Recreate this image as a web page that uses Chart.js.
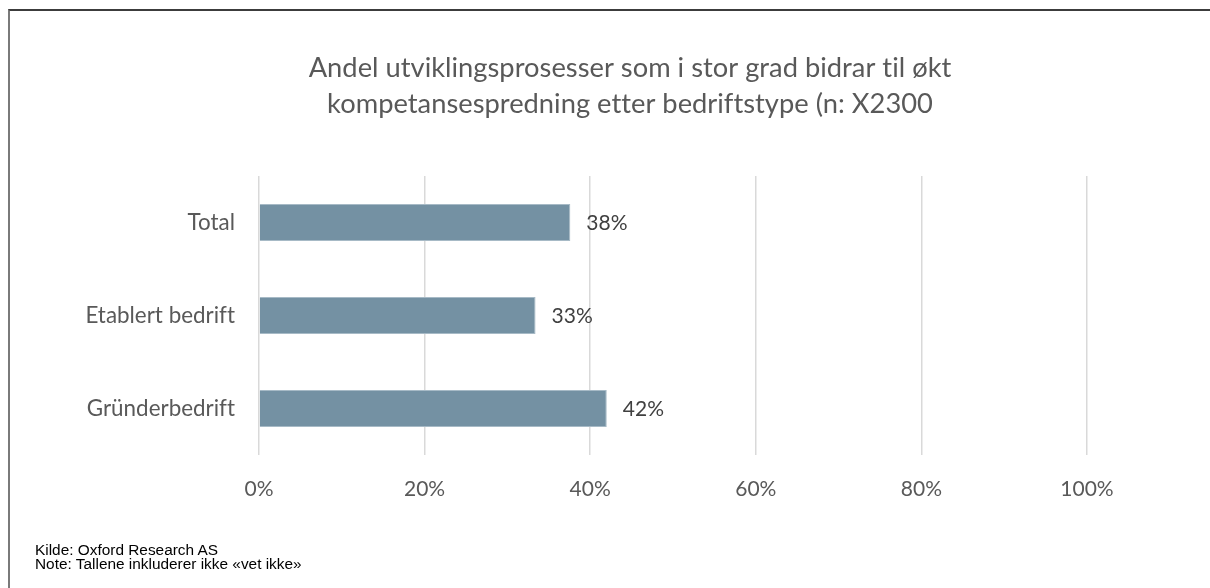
<!DOCTYPE html>
<html>
<head>
<meta charset="utf-8">
<script src="https://cdn.jsdelivr.net/npm/chart.js@4"></script>
<style>
  html, body { margin: 0; padding: 0; background: #fff; }
  #wrap { position: relative; width: 1210px; height: 588px; overflow: hidden; }
  #frame { position: absolute; left: 8px; top: 9px; width: 1300px; height: 700px;
           border-top: 2px solid #3c3c3c; border-left: 2px solid #7a7a7a; box-sizing: border-box; }
  canvas { position: absolute; left: 0; top: 0; }
  .note { position: absolute; left: 35px; font-family: "Liberation Sans", Arial, sans-serif;
          font-size: 15.4px; line-height: 18px; color: #000; white-space: nowrap; }
</style>
</head>
<body>
<div id="wrap">
  <div id="frame"></div>
  <canvas id="c" width="1210" height="588"></canvas>
  <div class="note" style="top:541px">Kilde: Oxford Research AS</div>
  <div class="note" style="top:555px">Note: Tallene inkluderer ikke «vet ikke»</div>
</div>
<script>
const categories = ["Total", "Etablert bedrift", "Gründerbedrift"];
const values = [37.6, 33.4, 42.0];
const xTicks = [0, 20, 40, 60, 80, 100];
const titleLines = ["Andel utviklingsprosesser som i stor grad bidrar til økt",
                    "kompetansespredning etter bedriftstype (n: X2300"];

const noLigatures = {
  id: 'noLigatures',
  beforeDraw(chart) {
    if ('letterSpacing' in chart.ctx) chart.ctx.letterSpacing = '0.01px';
  }
};

const valueLabels = {
  id: 'valueLabels',
  afterDatasetsDraw(chart) {
    const ctx = chart.ctx;
    const meta = chart.getDatasetMeta(0);
    ctx.save();
    ctx.font = '21px Lato';
    ctx.fillStyle = '#404040';
    ctx.textAlign = 'left';
    ctx.textBaseline = 'middle';
    meta.data.forEach((el, i) => {
      ctx.fillText(Math.round(values[i]) + '%', el.x + 16, el.y + 1);
    });
    ctx.restore();
  }
};

new Chart(document.getElementById('c'), {
  type: 'bar',
  data: {
    labels: categories,
    datasets: [{
      data: values,
      backgroundColor: '#7491A3',
      borderColor: '#A7BAC6',
      borderWidth: 1,
      categoryPercentage: 1,
      barPercentage: 0.4
    }]
  },
  options: {
    indexAxis: 'y',
    responsive: false,
    animation: false,
    layout: { padding: { left: 50, right: 0, top: 0, bottom: 0 } },
    plugins: {
      legend: { display: false },
      tooltip: { enabled: false },
      title: {
        display: true,
        text: titleLines,
        color: '#595959',
        font: { family: 'Lato', size: 27.3, weight: 'normal', lineHeight: 1.3187 },
        padding: { top: 50, bottom: 54 }
      }
    },
    scales: {
      x: {
        min: 0, max: 100,
        afterBuildTicks(scale) { scale.ticks = xTicks.map(v => ({ value: v })); },
        afterFit(scale) { scale.height = 133; },
        grid: { color: '#d9d9d9', lineWidth: 1.5, drawTicks: false },
        border: { display: false },
        ticks: {
          padding: 22,
          color: '#595959',
          font: { family: 'Lato', size: 21 },
          callback: v => v + '%'
        }
      },
      y: {
        afterFit(scale) { scale.width = 209; },
        grid: { display: false, drawTicks: false },
        border: { display: false },
        ticks: {
          padding: 24,
          color: '#595959',
          font: { family: 'Lato', size: 22.4 }
        }
      },
      yRight: {
        type: 'category',
        position: 'right',
        afterFit(scale) { scale.width = 123; },
        grid: { display: false, drawTicks: false },
        border: { display: false },
        ticks: { display: false }
      }
    }
  },
  plugins: [noLigatures, valueLabels]
});
</script>
</body>
</html>
